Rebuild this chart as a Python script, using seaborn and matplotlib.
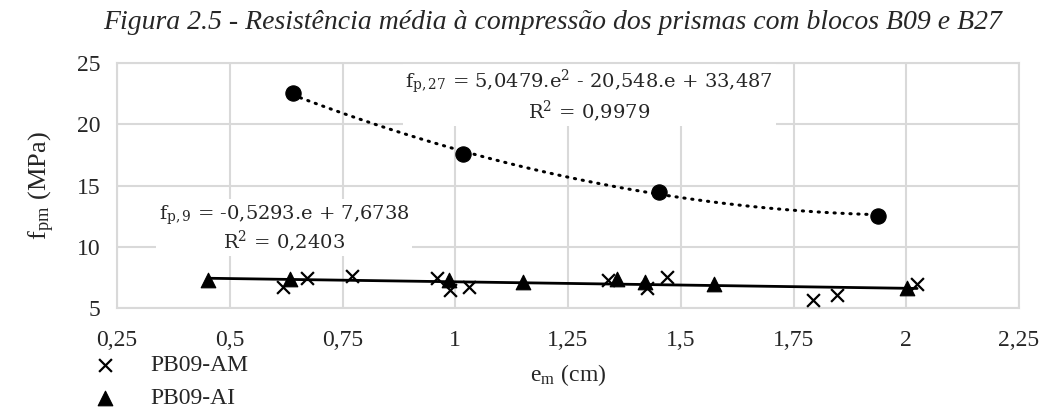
import numpy as np
import pandas as pd
import matplotlib
matplotlib.use("Agg")
import matplotlib.pyplot as plt
import seaborn as sns

# Data
am_e = [0.618, 0.671, 0.771, 0.960, 0.988, 1.030, 1.339, 1.425, 1.469, 1.793, 1.846, 2.024]
am_f = [6.7, 7.45, 7.6, 7.45, 6.45, 6.75, 7.3, 6.6, 7.5, 5.65, 6.05, 7.0]
ai_e = [0.452, 0.634, 0.986, 1.150, 1.359, 1.421, 1.574, 2.002]
ai_f = [7.3, 7.4, 7.3, 7.1, 7.4, 7.1, 6.95, 6.65]
b27_e = [0.640, 1.017, 1.452, 1.937]
b27_f = [22.55, 17.6, 14.47, 12.55]

# Trendline coefficients printed on the chart
coef_b09 = [-0.5293, 7.6738]
coef_b27 = [5.0479, -20.548, 33.487]

df_am = pd.DataFrame({"e": am_e, "f": am_f})
df_ai = pd.DataFrame({"e": ai_e, "f": ai_f})
df_27 = pd.DataFrame({"e": b27_e, "f": b27_f})

sns.set_style("white")
plt.rcParams["font.family"] = ["Liberation Serif", "DejaVu Serif"]
plt.rcParams["mathtext.fontset"] = "stix"

fig = plt.figure(figsize=(10.41, 4.18), dpi=100)
ax = fig.add_axes([0.1124, 0.263, 0.8665, 0.586])

# Trendlines
x9 = np.linspace(min(ai_e + am_e), max(ai_e + am_e), 100)
x27 = np.linspace(min(b27_e), max(b27_e), 100)
sns.lineplot(x=x9, y=np.polyval(coef_b09, x9), ax=ax, color="black", lw=2, zorder=3)
sns.lineplot(x=x27, y=np.polyval(coef_b27, x27), ax=ax, color="black", lw=2.2,
             linestyle=(0, (0.4, 2.2)), dash_capstyle="round", zorder=3)

sns.scatterplot(data=df_am, x="e", y="f", ax=ax, marker="x", s=85, color="black",
                linewidth=1.6, label="PB09-AM", zorder=4)
sns.scatterplot(data=df_ai, x="e", y="f", ax=ax, marker="^", s=110, color="black",
                edgecolor="black", label="PB09-AI", zorder=4)
sns.scatterplot(data=df_27, x="e", y="f", ax=ax, marker="o", s=120, color="black",
                edgecolor="black", label="PB27", zorder=4)

ax.set_xlim(0.25, 2.25)
ax.set_ylim(5, 25)
xt = [0.25, 0.5, 0.75, 1, 1.25, 1.5, 1.75, 2, 2.25]
ax.set_xticks(xt)
ax.set_xticklabels(["0,25", "0,5", "0,75", "1", "1,25", "1,5", "1,75", "2", "2,25"])
ax.set_yticks([5, 10, 15, 20, 25])
ax.tick_params(labelsize=17, length=0)
ax.tick_params(axis="x", pad=16)
ax.tick_params(axis="y", pad=12)
ax.grid(True, color="#d9d9d9", lw=1.5)
for s in ax.spines.values():
    s.set_color("#d9d9d9")
    s.set_linewidth(1.5)

ax.set_xlabel(r"e$_\mathregular{m}$ (cm)", fontsize=17, labelpad=8)
ax.set_ylabel(r"f$_\mathregular{pm}$ (MPa)", fontsize=19, labelpad=14)
fig.text(0.531, 0.945, "Figura 2.5 - Resistência média à compressão dos prismas com blocos B09 e B27",
         fontsize=20, style="italic", ha="center", va="center")

eq_kw = dict(ha="center", va="center", fontsize=14, family=["DejaVu Serif"],
             linespacing=1.05, zorder=2.5,
             bbox=dict(facecolor="white", edgecolor="none", pad=2))
ax.text(1.297, 22.35, "f$_\\mathregular{p,27}$ = 5,0479.e$^\\mathregular{2}$ - 20,548.e + 33,487\n"
        "R$^\\mathregular{2}$ = 0,9979", **eq_kw)
ax.text(0.62, 11.5, "f$_\\mathregular{p,9}$ = -0,5293.e + 7,6738\nR$^\\mathregular{2}$ = 0,2403", **eq_kw)

handles, labels = ax.get_legend_handles_labels()
ax.get_legend().remove()
fig.legend(handles[:2], labels[:2], loc="lower left", bbox_to_anchor=(0.058, -0.03),
           frameon=False, fontsize=17, handletextpad=0.9, labelspacing=0.5)

fig.savefig("out.png", dpi=100)
